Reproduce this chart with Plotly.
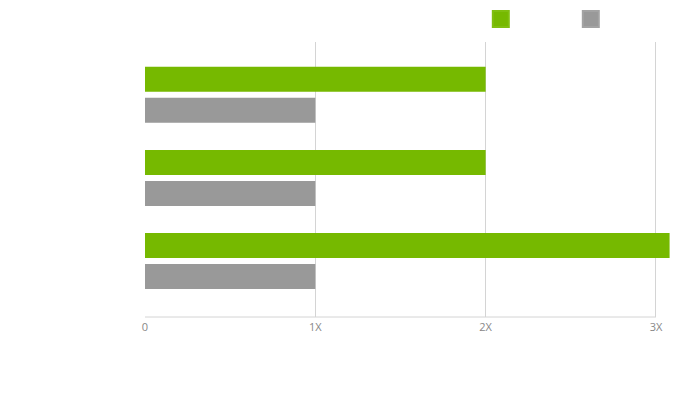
import plotly.graph_objects as go

# Datos (rendimiento relativo, 1X = referencia)
categorias = ["Prueba 1", "Prueba 2", "Prueba 3"]
serie_verde = [2.0, 2.0, 3.08]
serie_gris = [1.0, 1.0, 1.0]
nombres_series = ["GPU", "CPU"]
ticks_x = [0, 1, 2, 3]
etiquetas_x = ["0", "1X", "2X", "3X"]

_VERDE = "#76b900"
_GRIS = "#999999"
_GRID = "#d4d4d4"
_TXT = "#888888"

fig = go.Figure()
for nombre, valores, color, borde in [
    (nombres_series[0], serie_verde, _VERDE, "#80bf10"),
    (nombres_series[1], serie_gris, _GRIS, "#a3a3a3"),
]:
    fig.add_trace(go.Bar(
        x=valores, y=categorias, orientation="h", name=nombre,
        marker=dict(color=color, line=dict(width=0)),
        showlegend=False,
    ))
    # entrada de leyenda (cuadro grande)
    fig.add_trace(go.Scatter(
        x=[None], y=[None], mode="markers", name=nombre,
        marker=dict(symbol="square", size=16, color=color,
                    line=dict(width=2, color=borde)),
    ))

# la página html deja ~8px de margen en el body; se compensa aquí
fig.update_layout(
    width=700, height=402,
    paper_bgcolor="white", plot_bgcolor="white",
    font=dict(family="Open Sans, sans-serif", size=11, color=_TXT),
    barmode="group", bargap=0.253, bargroupgap=0.194,
    margin=dict(l=137, r=35, t=34, b=93, autoexpand=False),
    legend=dict(
        orientation="h", x=0.636, xanchor="left", y=1.0836, yanchor="middle",
        itemsizing="trace", entrywidth=45, entrywidthmode="pixels",
        font=dict(color="white", size=11), bgcolor="rgba(0,0,0,0)",
    ),
)
fig.update_xaxes(
    range=[0, 3.1], tickvals=ticks_x, ticktext=etiquetas_x,
    showgrid=True, gridcolor=_GRID, gridwidth=1,
    zeroline=False, showline=False, ticks="", ticklabelstandoff=2,
    tickfont=dict(color=_TXT, size=11),
)
fig.update_yaxes(
    range=[2.674, -0.636], showgrid=False, zeroline=False, showline=False,
    ticks="", tickfont=dict(color="white"),
)
# línea base del eje x (de 0 a 3X)
fig.add_shape(type="line", xref="x", yref="paper", x0=0, x1=3, y0=0, y1=0,
              line=dict(color=_GRID, width=1))

fig.write_html("out.html")
